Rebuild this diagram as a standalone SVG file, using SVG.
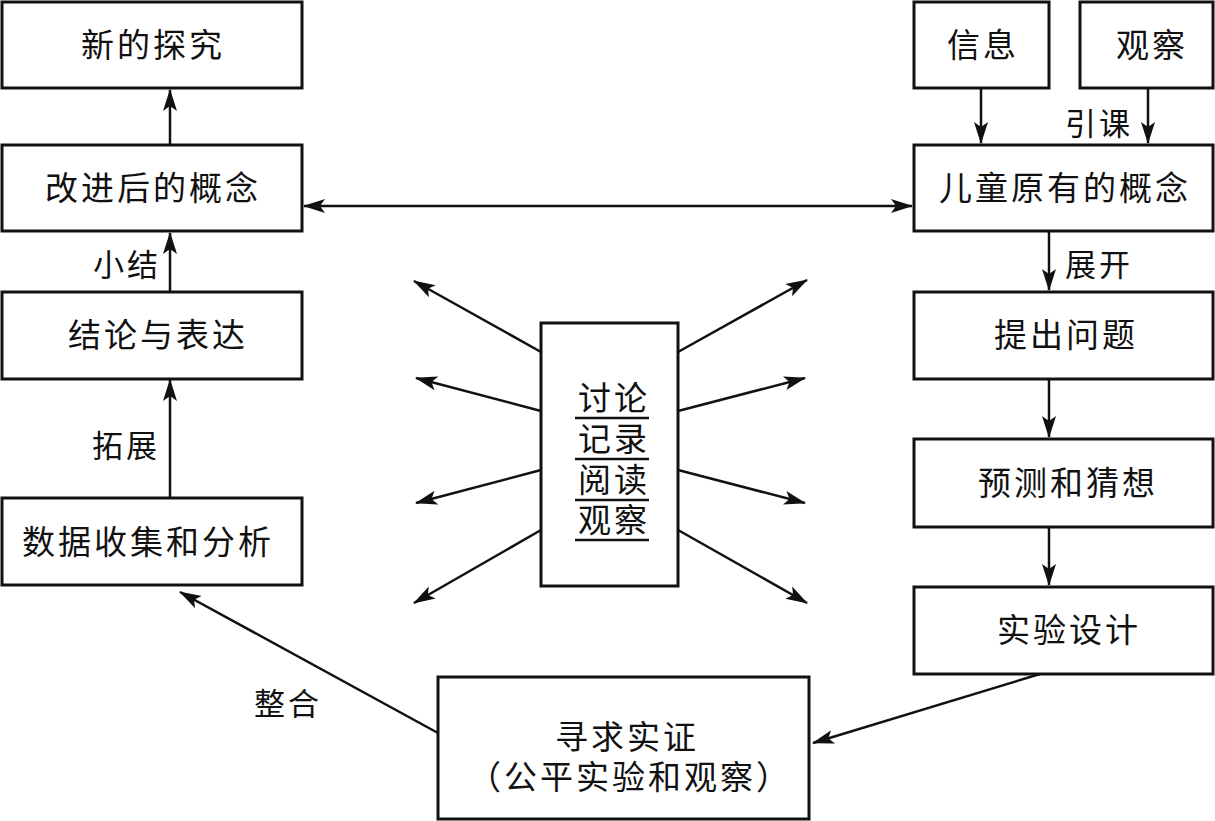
<svg xmlns="http://www.w3.org/2000/svg" width="1215" height="821" viewBox="0 0 1215 821">
<style>
.box{fill:#fff;stroke:#111;stroke-width:3}
.t{font-family:"Noto Sans CJK SC","Noto Sans CJK JP",sans-serif;font-size:33px;fill:#111;text-anchor:middle;letter-spacing:3px}
.l{font-family:"Noto Sans CJK SC","Noto Sans CJK JP",sans-serif;font-size:31px;fill:#111;text-anchor:middle;letter-spacing:3px}
.c{stroke:#111;stroke-width:2.5;fill:none}
.u{stroke:#111;stroke-width:2.5}
</style>
<defs>
<marker id="ah" markerUnits="userSpaceOnUse" markerWidth="22" markerHeight="16" viewBox="0 0 22 16" refX="21" refY="8" orient="auto-start-reverse">
<path d="M0,1 L22,8 L0,15 L5,8 Z" fill="#111"/>
</marker>
</defs>
<rect width="1215" height="821" fill="#fff"/>
<g id="connectors">
<line class="c" x1="170" y1="145" x2="170" y2="90" marker-end="url(#ah)"/>
<line class="c" x1="170" y1="292" x2="170" y2="233" marker-end="url(#ah)"/>
<line class="c" x1="170" y1="498" x2="170" y2="380" marker-end="url(#ah)"/>
<line class="c" x1="304" y1="206" x2="912" y2="206" marker-start="url(#ah)" marker-end="url(#ah)"/>
<line class="c" x1="981" y1="88" x2="981" y2="143" marker-end="url(#ah)"/>
<line class="c" x1="1148" y1="88" x2="1148" y2="143" marker-end="url(#ah)"/>
<line class="c" x1="1049" y1="231" x2="1049" y2="290" marker-end="url(#ah)"/>
<line class="c" x1="1049" y1="379" x2="1049" y2="437" marker-end="url(#ah)"/>
<line class="c" x1="1049" y1="527" x2="1049" y2="585" marker-end="url(#ah)"/>
<line class="c" x1="1040" y1="674" x2="813" y2="743" marker-end="url(#ah)"/>
<line class="c" x1="438" y1="733" x2="180" y2="592" marker-end="url(#ah)"/>
<line class="c" x1="541" y1="352" x2="414" y2="281" marker-end="url(#ah)"/>
<line class="c" x1="541" y1="411" x2="416" y2="378" marker-end="url(#ah)"/>
<line class="c" x1="541" y1="470" x2="416" y2="503" marker-end="url(#ah)"/>
<line class="c" x1="541" y1="530" x2="414" y2="603" marker-end="url(#ah)"/>
<line class="c" x1="678" y1="352" x2="807" y2="280" marker-end="url(#ah)"/>
<line class="c" x1="678" y1="411" x2="805" y2="378" marker-end="url(#ah)"/>
<line class="c" x1="678" y1="470" x2="805" y2="503" marker-end="url(#ah)"/>
<line class="c" x1="678" y1="530" x2="807" y2="603" marker-end="url(#ah)"/>
<text class="l" x="127" y="276">小结</text>
<text class="l" x="126" y="457">拓展</text>
<text class="l" x="288" y="715">整合</text>
<text class="l" x="1099" y="135">引课</text>
<text class="l" x="1099" y="276">展开</text>
</g>
<g id="n-xindetanjiu"><rect class="box" x="2" y="2" width="300" height="86"/><text class="t" x="153" y="57">新的探究</text></g>
<g id="n-gaijin"><rect class="box" x="2" y="145" width="300" height="86"/><text class="t" x="153" y="200">改进后的概念</text></g>
<g id="n-jielun"><rect class="box" x="2" y="292" width="300" height="87"/><text class="t" x="158" y="347">结论与表达</text></g>
<g id="n-shuju"><rect class="box" x="2" y="498" width="300" height="87"/><text class="t" x="148" y="554">数据收集和分析</text></g>
<g id="n-xinxi"><rect class="box" x="914" y="2" width="135" height="86"/><text class="t" x="983" y="57">信息</text></g>
<g id="n-guancha"><rect class="box" x="1080" y="2" width="133" height="86"/><text class="t" x="1152" y="57">观察</text></g>
<g id="n-ertong"><rect class="box" x="914" y="145" width="299" height="86"/><text class="t" x="1065" y="200">儿童原有的概念</text></g>
<g id="n-tichu"><rect class="box" x="914" y="292" width="299" height="87"/><text class="t" x="1066" y="347">提出问题</text></g>
<g id="n-yuce"><rect class="box" x="914" y="439" width="299" height="88"/><text class="t" x="1068" y="495">预测和猜想</text></g>
<g id="n-shiyan"><rect class="box" x="914" y="587" width="299" height="87"/><text class="t" x="1069" y="642">实验设计</text></g>
<g id="n-xunqiu"><rect class="box" x="438" y="677" width="371" height="142"/><text class="t"><tspan x="627" y="749">寻求实证</tspan><tspan x="630" y="789">（公平实验和观察）</tspan></text></g>
<g id="n-center"><rect class="box" x="541" y="323" width="137" height="263"/>
<text class="t"><tspan x="614" y="410">讨论</tspan><tspan x="614" y="451">记录</tspan><tspan x="614" y="492">阅读</tspan><tspan x="614" y="532">观察</tspan></text>
<line class="u" x1="575" y1="418" x2="649" y2="418"/>
<line class="u" x1="575" y1="459" x2="649" y2="459"/>
<line class="u" x1="575" y1="500" x2="649" y2="500"/>
<line class="u" x1="575" y1="540" x2="649" y2="540"/>
</g>
</svg>
